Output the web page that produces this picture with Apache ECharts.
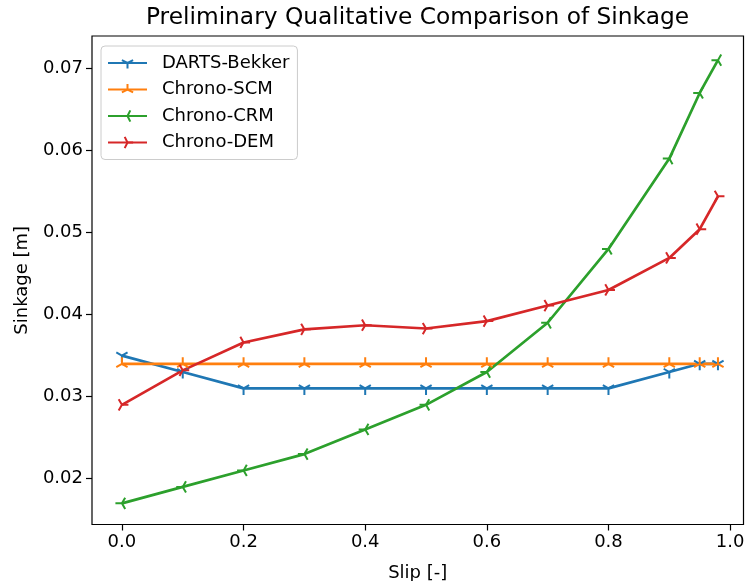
<!DOCTYPE html>
<html>
<head>
<meta charset="utf-8">
<script src="https://cdn.jsdelivr.net/npm/echarts@6/dist/echarts.min.js"></script>
<style>
html,body{margin:0;padding:0;background:#fff;}
#chart{width:747px;height:581px;}
</style>
</head>
<body>
<div id="chart"></div>
<script>
// ---- data ----
const slip = [0.0, 0.1, 0.2, 0.3, 0.4, 0.5, 0.6, 0.7, 0.8, 0.9, 0.95, 0.98];
const dartsBekker = [0.035, 0.033, 0.031, 0.031, 0.031, 0.031, 0.031, 0.031, 0.031, 0.033, 0.034, 0.034];
const chronoSCM = [0.034, 0.034, 0.034, 0.034, 0.034, 0.034, 0.034, 0.034, 0.034, 0.034, 0.034, 0.034];
const chronoCRM = [0.017, 0.019, 0.021, 0.023, 0.026, 0.029, 0.033, 0.039, 0.048, 0.059, 0.067, 0.071];
const chronoDEM = [0.029, 0.0332, 0.0366, 0.0382, 0.0387, 0.0383, 0.0392, 0.0411, 0.043, 0.0469, 0.0504, 0.0544];
const seriesNames = ['DARTS-Bekker', 'Chrono-SCM', 'Chrono-CRM', 'Chrono-DEM'];
const xTicks = [0.0, 0.2, 0.4, 0.6, 0.8, 1.0];
const yTicks = [0.02, 0.03, 0.04, 0.05, 0.06, 0.07];

// ---- styling ----
const colors = ['#1f77b4', '#ff7f0e', '#2ca02c', '#d62728'];
const markers = [
  'path://M0 -10 M0 0 L0 10 M0 0 L8.66 -5 M0 0 L-8.66 -5',   // tri_down
  'path://M0 10 M0 0 L0 -10 M0 0 L8.66 5 M0 0 L-8.66 5',     // tri_up
  'path://M10 0 M0 0 L-10 0 M0 0 L5 8.66 M0 0 L5 -8.66',     // tri_left
  'path://M-10 0 M0 0 L10 0 M0 0 L-5 8.66 M0 0 L-5 -8.66'    // tri_right
];
const allValues = [dartsBekker, chronoSCM, chronoCRM, chronoDEM];
const FONT = 'DejaVu Sans';

const series = seriesNames.map((name, i) => ({
  name: name,
  type: 'line',
  data: slip.map((x, j) => [x, allValues[i][j]]),
  symbol: markers[i],
  symbolSize: 13,
  symbolKeepAspect: true,
  showAllSymbol: true,
  lineStyle: { color: colors[i], width: 2.7 },
  itemStyle: { color: colors[i], borderColor: colors[i], borderWidth: 2 },
  emphasis: { disabled: true },
  animation: false
}));

const chart = echarts.init(document.getElementById('chart'), null, { renderer: 'canvas' });
chart.setOption({
  animation: false,
  backgroundColor: '#fff',
  title: {
    text: 'Preliminary Qualitative Comparison of Sinkage',
    left: 417.5, top: 6, padding: 0, textAlign: 'center',
    textStyle: { fontFamily: FONT, fontSize: 23.3, fontWeight: 'normal', color: '#000' }
  },
  legend: {
    orient: 'vertical',
    left: 101, top: 46,
    padding: [8, 8, 8, 6],
    itemGap: 8.5,
    itemWidth: 39, itemHeight: 14,
    backgroundColor: 'rgba(255,255,255,0.8)',
    borderColor: '#cccccc', borderWidth: 1, borderRadius: 4,
    textStyle: { fontFamily: FONT, fontSize: 18, color: '#000', lineHeight: 18, padding: [0, 0, 0, 10] },
    data: seriesNames
  },
  grid: {
    left: 92, right: 3.5, top: 36, bottom: 56.5,
    outerBoundsMode: 'none', containLabel: false,
    show: true, borderColor: '#000', borderWidth: 1.2, backgroundColor: 'transparent'
  },
  xAxis: {
    type: 'value', min: -0.0492, max: 1.022,
    name: 'Slip [-]', nameLocation: 'middle', nameGap: 40,
    nameTextStyle: { fontFamily: FONT, fontSize: 18, color: '#000' },
    axisLine: { show: false, onZero: false },
    axisTick: { show: true, length: 6, lineStyle: { color: '#000', width: 1.2 }, customValues: xTicks },
    axisLabel: { fontFamily: FONT, fontSize: 18, color: '#000', margin: 9, customValues: xTicks,
      formatter: v => v.toFixed(1) },
    splitLine: { show: false }
  },
  yAxis: {
    type: 'value', min: 0.01442, max: 0.07394,
    name: 'Sinkage [m]', nameLocation: 'middle', nameGap: 61, nameRotate: 90,
    nameTextStyle: { fontFamily: FONT, fontSize: 18, color: '#000' },
    axisLine: { show: false, onZero: false },
    axisTick: { show: true, length: 6, lineStyle: { color: '#000', width: 1.2 }, customValues: yTicks },
    axisLabel: { fontFamily: FONT, fontSize: 18, color: '#000', margin: 9, customValues: yTicks,
      formatter: v => v.toFixed(2) },
    splitLine: { show: false }
  },
  series: series
});
</script>
</body>
</html>
